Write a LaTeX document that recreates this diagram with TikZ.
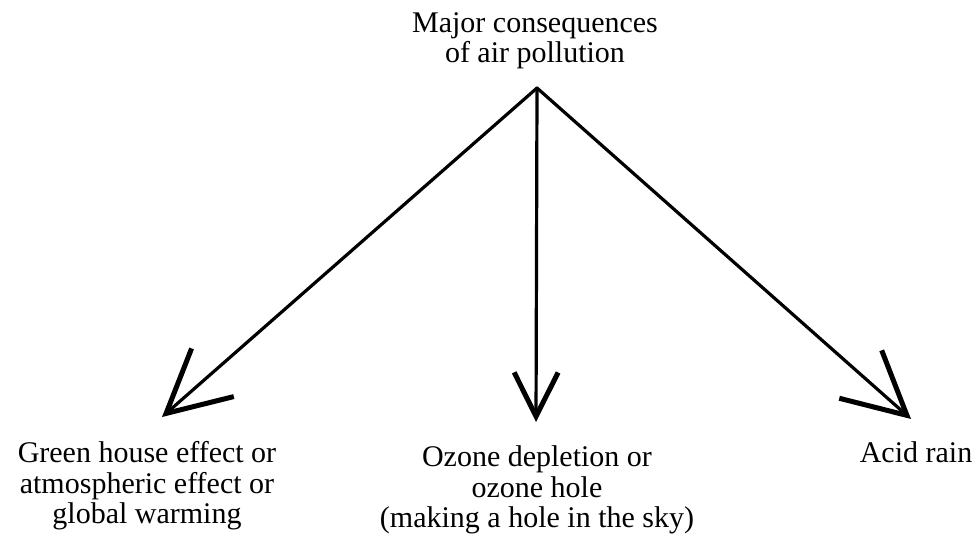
\documentclass[tikz,border=0pt]{standalone}
\usepackage{fontspec}
\setmainfont{Liberation Serif}
\usetikzlibrary{arrows.meta, positioning}
\tikzstyle{heading} = [align=center, inner sep=0pt, font=\fontsize{30}{30.5}\selectfont]
\tikzstyle{effect} = [align=center, inner sep=0pt, font=\fontsize{30}{30.5}\selectfont]
\tikzstyle{arrow} = [line width=3.2pt, line cap=round, -{Straight Barb[length=62pt, width=64pt, line width=5pt]}]
\tikzstyle{shortarrow} = [line width=3.2pt, line cap=round, -{Straight Barb[length=44pt, width=44pt, line width=5pt]}]

\begin{document}
\begin{tikzpicture}[x=1pt, y=-1pt, node distance=449pt]
\useasboundingbox (0,0) rectangle (976,540);
            % Heading
            \node (Consequences) [heading] at (535,41) {Major consequences\\of air pollution};

            % Effects
            \node (Ozone) [effect, below of=Consequences, xshift=2pt] {Ozone depletion or\\ozone hole\\(making a hole in the sky)};
            \node (GreenHouse) [effect, below of=Consequences, xshift=-388pt, yshift=4pt] {Green house effect or\\atmospheric effect or\\global warming};
            \node (AcidRain) [effect, below of=Consequences, xshift=381pt, yshift=38pt] {Acid rain};

            % Arrows
            \coordinate (Apex) at (537,88);
            \coordinate (GreenHouseTip) at (162,417);
            \coordinate (OzoneTip) at (536,422);
            \coordinate (AcidRainTip) at (911,419);
            \draw [arrow] (Apex) -- (GreenHouseTip);
            \draw [shortarrow] (Apex) -- (OzoneTip);
            \draw [arrow] (Apex) -- (AcidRainTip);
\end{tikzpicture}
\end{document}
